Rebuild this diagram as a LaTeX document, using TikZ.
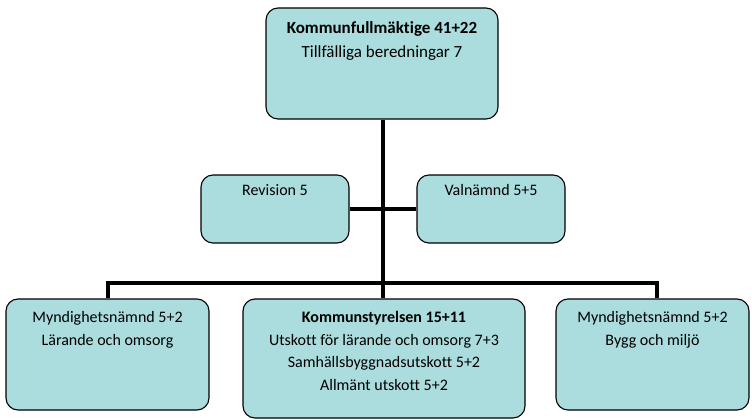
\documentclass[tikz,border=0pt]{standalone}
\usepackage{fontspec}
\setmainfont[Ligatures={NoCommon}]{Carlito}
\definecolor{boxfill}{RGB}{171,220,222}
\begin{document}
\begin{tikzpicture}[x=1pt,y=-1pt,
  box/.style={draw=black,line width=1.1pt,fill=boxfill,rounded corners=12pt,inner sep=0pt},
  txt/.style={anchor=north,align=center,inner sep=0pt,font=\fontsize{16}{22.5}\selectfont},
  conn/.style={line width=4.5pt,black}]
\useasboundingbox (0,0) rectangle (752,420);
% boxes
\node[box,minimum width=232pt,minimum height=111pt] (kf) at (382,63.5) {};
\node[box,minimum width=148pt,minimum height=68pt] (rev) at (275,209) {};
\node[box,minimum width=148pt,minimum height=68pt] (val) at (491,209) {};
\node[box,minimum width=203pt,minimum height=111pt] (ml) at (107.5,354.5) {};
\node[box,minimum width=282pt,minimum height=119pt] (ks) at (384,358.5) {};
\node[box,minimum width=193pt,minimum height=111pt] (mb) at (652.5,354.5) {};
% texts
\node[txt,font=\fontsize{17}{24.3}\selectfont] (kft) at ([yshift=-13.5pt]kf.north) {\textbf{Kommunfullmäktige 41+22}\\Tillfälliga beredningar 7};
\node[txt] (revt) at ([yshift=-9.5pt]rev.north) {Revision 5};
\node[txt] (valt) at ([yshift=-9.5pt]val.north) {Valnämnd 5+5};
\node[txt] (mlt) at ([yshift=-13pt]ml.north) {Myndighetsnämnd 5+2\\Lärande och omsorg};
\node[txt] (kst) at ([yshift=-13pt]ks.north) {\textbf{Kommunstyrelsen 15+11}\\Utskott för lärande och omsorg 7+3\\Samhällsbyggnadsutskott 5+2\\Allmänt utskott 5+2};
\node[txt] (mbt) at ([yshift=-13pt]mb.north) {Myndighetsnämnd 5+2\\Bygg och miljö};
% connectors
\coordinate (jmid) at (383,283);
\coordinate (jl) at (108,283);
\coordinate (jr) at (657,283);
\draw[conn] (kf.south -| jmid) -- (jmid);
\draw[conn] (rev.east) -- (val.west);
\draw[conn,line cap=rect] (jl) -- (jr);
\draw[conn] (jl) -- (jl |- ml.north);
\draw[conn] (jr) -- (jr |- mb.north);
\draw[conn] (jmid) -- (jmid |- ks.north);
\end{tikzpicture}
\end{document}
